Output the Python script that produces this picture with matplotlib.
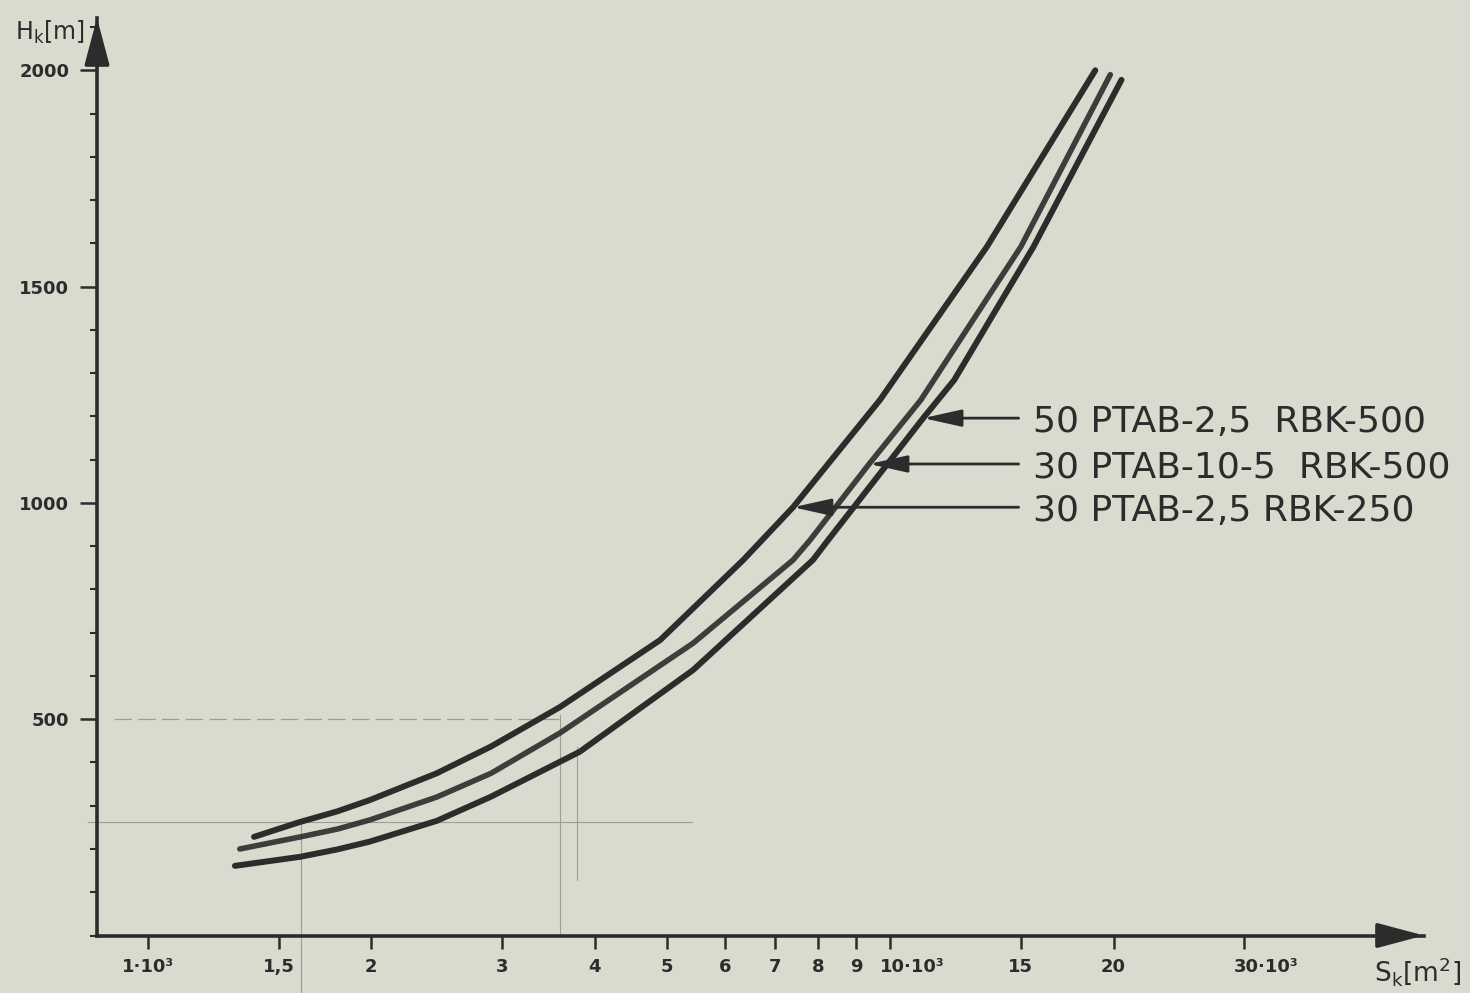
import matplotlib
matplotlib.use('Agg')
import matplotlib.pyplot as plt
from matplotlib import font_manager
from matplotlib.ticker import FixedLocator, NullLocator, MultipleLocator
from matplotlib.transforms import ScaledTranslation

# curve data, S_k in m^2, H_k in m
s_rbk250 = [1.39e3, 1.60e3, 1.80e3, 1.99e3, 2.45e3, 2.90e3, 3.59e3, 4.90e3, 6.34e3, 7.40e3, 9.69e3, 13.5e3, 18.9e3]
h_rbk250 = [228, 262, 287, 313, 375, 437, 528, 683, 868, 990, 1238, 1592, 2000]

s_ptab10 = [1.33e3, 1.605e3, 1.80e3, 1.99e3, 2.45e3, 2.90e3, 3.59e3, 5.43e3, 7.40e3, 7.80e3, 9.37e3, 11.0e3, 15.0e3, 19.8e3]
h_ptab10 = [200, 228, 246, 267, 320, 375, 468, 676, 868, 914, 1090, 1238, 1592, 1990]

s_rbk500 = [1.31e3, 1.605e3, 1.80e3, 1.99e3, 2.45e3, 2.90e3, 3.82e3, 5.43e3, 7.87e3, 8.25e3, 11.08e3, 12.2e3, 15.6e3, 20.5e3]
h_rbk500 = [161, 182, 199, 217, 265, 321, 425, 614, 868, 914, 1196, 1284, 1592, 1978]

labels = ['50 PTAB-2,5  RBK-500', '30 PTAB-10-5  RBK-500', '30 PTAB-2,5 RBK-250']

x_ticks = [1e3, 1.5e3, 2e3, 3e3, 4e3, 5e3, 6e3, 7e3, 8e3, 9e3, 10e3, 15e3, 20e3, 30e3]
x_ticklabels = ['1·10³', '1,5', '2', '3', '4', '5', '6', '7', '8', '9', '10·10³', '15', '20', '30·10³']
y_ticks = [500, 1000, 1500, 2000]

# faint pencil construction lines
pencil_h500_s = [0.90e3, 3.59e3]
pencil_h500_h = [500, 500]
pencil_h262_s = [0.83e3, 5.41e3]
pencil_h262_h = [262, 262]
pencil_v1_s = [3.59e3, 3.59e3]
pencil_v1_h = [510, 0]
pencil_v2_s = [3.79e3, 3.79e3]
pencil_v2_h = [436, 128]
pencil_v3_s = [1.61e3, 1.61e3]
pencil_v3_h = [262, -140]

paper = '#d8dccf'
ink = '#2c2c2c'
pencil = '#9a9e94'

names = {f.name for f in font_manager.fontManager.ttflist}
if 'Liberation Sans Narrow' in names:
    label_font, label_size = 'Liberation Sans Narrow', 33
else:
    label_font, label_size = 'DejaVu Sans', 26

fig = plt.figure(figsize=(14.7, 9.93), dpi=100, facecolor=paper)
ax = fig.add_axes([97 / 1470, 57.5 / 993, 1327 / 1470, 917.5 / 993])
ax.set_facecolor(paper)
ax.set_xscale('log')
ax.set_xlim(854, 52400)
ax.set_ylim(0, 2121)

# pencil lines
ax.plot(pencil_h500_s, pencil_h500_h, color=pencil, lw=0.9, ls=(0, (14, 5)))
ax.plot(pencil_h262_s, pencil_h262_h, color=pencil, lw=0.8, clip_on=False)
ax.plot(pencil_v1_s, pencil_v1_h, color=pencil, lw=0.8)
ax.plot(pencil_v2_s, pencil_v2_h, color=pencil, lw=0.8)
ax.plot(pencil_v3_s, pencil_v3_h, color=pencil, lw=0.8, clip_on=False)

# curves
ax.plot(s_rbk250, h_rbk250, color=ink, lw=4.3, solid_capstyle='round', solid_joinstyle='round')
ax.plot(s_ptab10, h_ptab10, color=ink, lw=4.0, solid_capstyle='round', solid_joinstyle='round', alpha=0.9)
ax.plot(s_rbk500, h_rbk500, color=ink, lw=4.3, solid_capstyle='round', solid_joinstyle='round')

# labels with arrows pointing to the curves
tips = [(s_rbk500[10], h_rbk500[10]), (s_ptab10[10], h_ptab10[10]), (s_rbk250[9], h_rbk250[9])]
for lab, (sx, hy) in zip(labels, tips):
    ax.annotate('', xy=(sx, hy), xytext=(14.9e3, hy),
                arrowprops=dict(arrowstyle='-|>,head_length=0.9,head_width=0.2',
                                mutation_scale=26, color=ink, lw=2.0,
                                shrinkA=0, shrinkB=0))
    ax.text(15.6e3, hy - 8, lab, fontsize=label_size, family=label_font,
            color=ink, va='center', ha='left')

# axes
for side in ['top', 'right']:
    ax.spines[side].set_visible(False)
for side in ['left', 'bottom']:
    ax.spines[side].set_linewidth(2.6)
    ax.spines[side].set_color(ink)

ax.xaxis.set_major_locator(FixedLocator(x_ticks))
ax.xaxis.set_minor_locator(NullLocator())
ax.set_xticklabels(x_ticklabels, fontsize=13, fontweight='bold', color=ink)
ax.tick_params(axis='x', which='major', direction='out', length=9, width=1.8, color=ink, pad=7)
for lbl in ax.get_xticklabels():
    if lbl.get_text() in ('10·10³', '30·10³'):
        lbl.set_horizontalalignment('left')
        lbl.set_transform(lbl.get_transform() + ScaledTranslation(-10 / 100, 0, fig.dpi_scale_trans))

ax.yaxis.set_major_locator(FixedLocator(y_ticks))
ax.yaxis.set_minor_locator(MultipleLocator(100))
ax.set_yticklabels([str(v) for v in y_ticks], fontsize=13, fontweight='bold', color=ink)
ax.tick_params(axis='y', which='major', direction='out', length=12, width=1.8, color=ink, pad=8)
ax.tick_params(axis='y', which='minor', direction='out', length=5, width=1.5, color=ink)

# arrow heads on the axes
ax.annotate('', xy=(1.0, 0), xytext=(0.978, 0), xycoords='axes fraction',
            arrowprops=dict(arrowstyle='-|>,head_length=1.2,head_width=0.32',
                            mutation_scale=24, color=ink, lw=2.6, shrinkA=0, shrinkB=0))
ax.annotate('', xy=(0, 1.0), xytext=(0, 0.966), xycoords='axes fraction',
            arrowprops=dict(arrowstyle='-|>,head_length=1.2,head_width=0.32',
                            mutation_scale=24, color=ink, lw=2.6, shrinkA=0, shrinkB=0))

fig.text(15 / 1470, 1 - 32 / 993, r'H$_\mathregular{k}$[m]', fontsize=17, color=ink, va='center', ha='left')
fig.text(1374 / 1470, 1 - 972 / 993, r'S$_\mathregular{k}$[m$^\mathregular{2}$]', fontsize=19, color=ink, va='center', ha='left')

fig.savefig('out.png', dpi=100, facecolor=paper)
